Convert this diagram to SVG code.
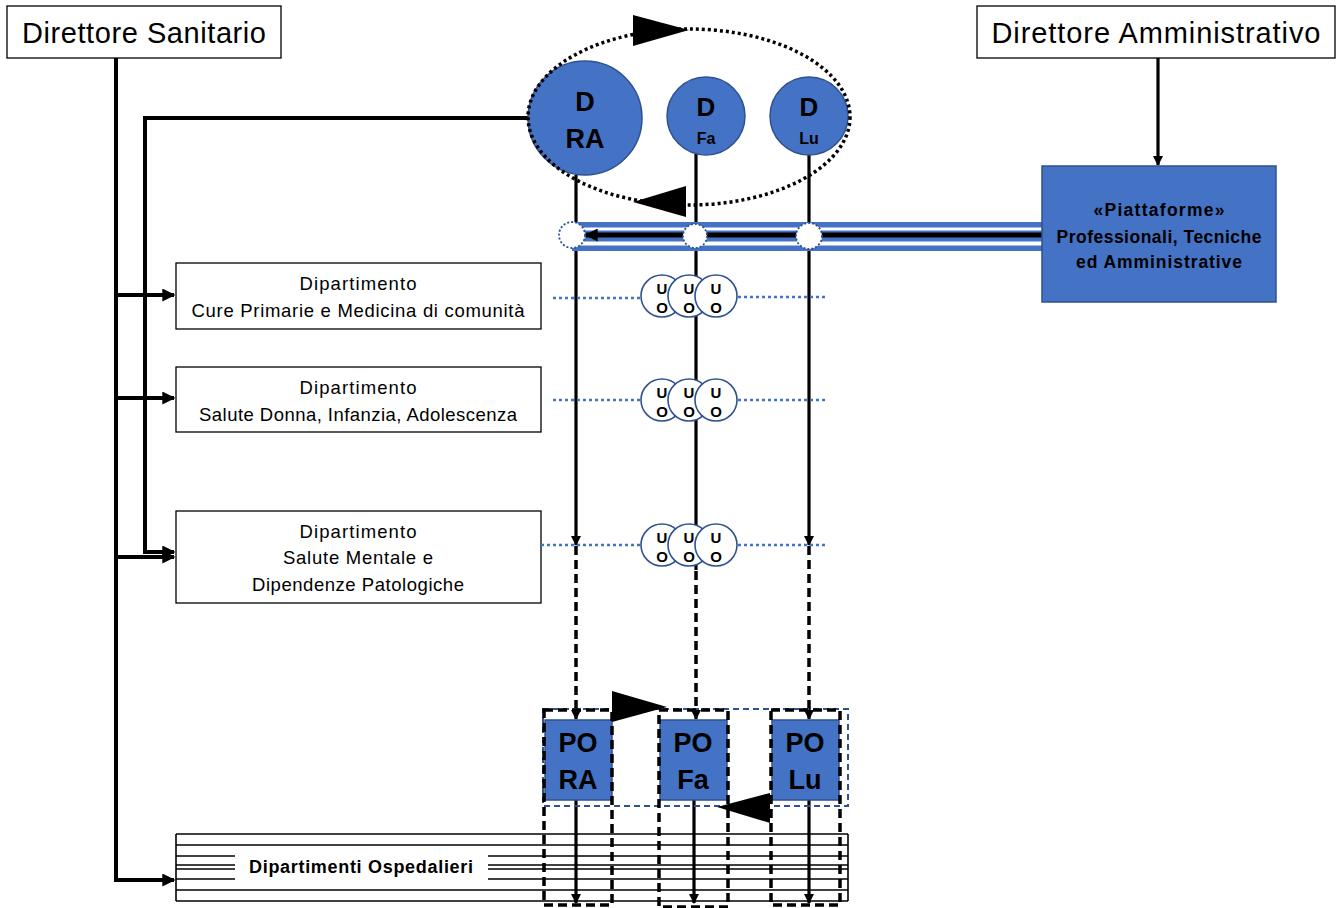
<svg xmlns="http://www.w3.org/2000/svg" width="1340" height="908" viewBox="0 0 1340 908">
  <style>
    .box { fill: #ffffff; stroke: #000000; stroke-width: 1.3; }
    .blue { fill: #4472C4; stroke: #2F528F; stroke-width: 1.5; }
    .t { font-family: "Liberation Sans", Arial, sans-serif; fill: #000000; text-anchor: middle; }
    .b { font-weight: bold; }
    .wire { fill: none; stroke: #000000; stroke-width: 4; }
    .thin { fill: none; stroke: #000000; stroke-width: 3.2; }
    .dash { fill: none; stroke: #000000; stroke-width: 3.5; stroke-dasharray: 9 5; }
    .dot { fill: none; stroke: #4472C4; stroke-width: 2.5; stroke-dasharray: 3 3; }
    .uo { fill: #ffffff; stroke: #2F528F; stroke-width: 1.6; }
    .ring { fill: #ffffff; stroke: #2F528F; stroke-width: 1.8; stroke-dasharray: 2 2; }
    .stripe { fill: none; stroke: #000000; stroke-width: 1.6; }
  </style>
  <defs>
    <marker id="arr" viewBox="0 0 10 10" refX="9" refY="5" markerWidth="10" markerHeight="10" markerUnits="userSpaceOnUse" orient="auto">
      <path d="M0,0 L10,5 L0,10 Z" fill="#000000"/>
    </marker>
    <marker id="arrL" viewBox="0 0 10 10" refX="9" refY="5" markerWidth="13" markerHeight="13" markerUnits="userSpaceOnUse" orient="auto">
      <path d="M0,0 L10,5 L0,10 Z" fill="#000000"/>
    </marker>
  </defs>

  <rect width="1340" height="908" fill="#ffffff"/>

  <!-- hospital departments block (drawn first, lines run behind the PO columns) -->
  <g id="dip-ospedalieri">
    <rect x="176" y="833" width="672" height="68" fill="#ffffff" stroke="none"/>
    <line class="stripe" x1="176" y1="834" x2="848" y2="834"/>
    <line class="stripe" x1="176" y1="845" x2="848" y2="845"/>
    <line class="stripe" x1="176" y1="856" x2="848" y2="856"/>
    <line class="stripe" x1="176" y1="865" x2="848" y2="865"/>
    <line class="stripe" x1="176" y1="869" x2="848" y2="869"/>
    <line class="stripe" x1="176" y1="879" x2="848" y2="879"/>
    <line class="stripe" x1="176" y1="890" x2="848" y2="890"/>
    <line class="stripe" x1="176" y1="901" x2="848" y2="901"/>
    <line class="stripe" x1="176" y1="834" x2="176" y2="901"/>
    <line class="stripe" x1="848" y1="834" x2="848" y2="901"/>
    <rect x="235" y="847" width="253" height="39" fill="#ffffff"/>
    <text class="t b" x="361" y="873" font-size="18" textLength="224">Dipartimenti Ospedalieri</text>
  </g>

  <!-- top-level directors -->
  <g id="dir-sanitario">
    <rect class="box" x="7" y="6" width="274" height="52"/>
    <text class="t" x="144" y="43" font-size="29" textLength="244">Direttore Sanitario</text>
  </g>
  <g id="dir-amministrativo">
    <rect class="box" x="977" y="6" width="358" height="52"/>
    <text class="t" x="1156" y="43" font-size="29" textLength="329">Direttore Amministrativo</text>
  </g>

  <!-- territorial departments -->
  <g id="dip-cure-primarie">
    <rect class="box" x="176" y="263" width="365" height="66"/>
    <text class="t" x="358" y="290" font-size="18.5" textLength="117">Dipartimento</text>
    <text class="t" x="358" y="317" font-size="18.5" textLength="333">Cure Primarie e Medicina di comunità</text>
  </g>
  <g id="dip-donna-infanzia">
    <rect class="box" x="176" y="367" width="365" height="65"/>
    <text class="t" x="358" y="394" font-size="18.5" textLength="117">Dipartimento</text>
    <text class="t" x="358" y="421" font-size="18.5" textLength="318">Salute Donna, Infanzia, Adolescenza</text>
  </g>
  <g id="dip-salute-mentale">
    <rect class="box" x="176" y="511" width="365" height="92"/>
    <text class="t" x="358" y="538" font-size="18.5" textLength="117">Dipartimento</text>
    <text class="t" x="358" y="564" font-size="18.5" textLength="150">Salute Mentale e</text>
    <text class="t" x="358" y="591" font-size="18.5" textLength="212">Dipendenze Patologiche</text>
  </g>

  <!-- connectors -->
  <g id="connectors">
    <!-- Direttore Sanitario trunk and branches -->
    <path class="wire" d="M116,58 V880 H174" marker-end="url(#arrL)"/>
    <path class="wire" d="M116,295 H174" marker-end="url(#arrL)"/>
    <path class="wire" d="M116,398 H174" marker-end="url(#arrL)"/>
    <path class="wire" d="M116,557 H174" marker-end="url(#arrL)"/>
    <path class="wire" d="M530,118 H145 V552 H174" marker-end="url(#arrL)"/>

    <!-- Direttore Amministrativo to platforms -->
    <path class="thin" d="M1158,58 V165" marker-end="url(#arr)"/>

    <!-- district lines down to the hospitals -->
    <path class="thin" d="M576,175 V545" marker-end="url(#arr)"/>
    <path class="thin" d="M696,154 V570"/>
    <path class="thin" d="M809,154 V545" marker-end="url(#arr)"/>
    <path class="dash" d="M576,546 V712"/>
    <path class="dash" d="M696,571 V712"/>
    <path class="dash" d="M809,546 V712"/>
    <path class="thin" d="M576,708 V719" marker-end="url(#arr)"/>
    <path class="thin" d="M696,708 V719" marker-end="url(#arr)"/>
    <path class="thin" d="M809,708 V719" marker-end="url(#arr)"/>

    <!-- hospitals down to hospital departments -->
    <path class="thin" d="M576,800 V903" marker-end="url(#arr)"/>
    <path class="thin" d="M694,800 V903" marker-end="url(#arr)"/>
    <path class="thin" d="M809,800 V903" marker-end="url(#arr)"/>

    <!-- dotted links across the territorial departments -->
    <line class="dot" x1="553" y1="298" x2="641" y2="298"/>
    <line class="dot" x1="738" y1="297" x2="828" y2="297"/>
    <line class="dot" x1="553" y1="400" x2="641" y2="400"/>
    <line class="dot" x1="738" y1="400" x2="828" y2="400"/>
    <line class="dot" x1="541" y1="545" x2="641" y2="545"/>
    <line class="dot" x1="738" y1="545" x2="828" y2="545"/>
  </g>

  <!-- platform band -->
  <g id="band">
    <rect x="572" y="222" width="470" height="29" fill="#4472C4"/>
    <rect x="572" y="227.5" width="470" height="3" fill="#ffffff"/>
    <rect x="572" y="241.5" width="470" height="4" fill="#ffffff"/>
    <path d="M1042,235 H586" stroke="#000000" stroke-width="5" fill="none" marker-end="url(#arrL)"/>
    <circle class="ring" cx="572" cy="235" r="13"/>
    <circle class="ring" cx="695" cy="236" r="12"/>
    <circle class="ring" cx="809" cy="236" r="13"/>
  </g>

  <g id="piattaforme">
    <rect class="blue" x="1042" y="166" width="234" height="136"/>
    <text class="t b" x="1159" y="216" font-size="17.5" textLength="131">«Piattaforme»</text>
    <text class="t b" x="1159" y="243" font-size="17.5" textLength="205">Professionali, Tecniche</text>
    <text class="t b" x="1159" y="268" font-size="17.5" textLength="166">ed Amministrative</text>
  </g>

  <!-- district directors -->
  <g id="d-ra">
    <circle class="blue" cx="585" cy="118" r="57"/>
    <text class="t b" x="585" y="111" font-size="27">D</text>
    <text class="t b" x="585" y="148" font-size="27">RA</text>
  </g>
  <g id="d-fa">
    <circle class="blue" cx="706" cy="116" r="39"/>
    <text class="t b" x="706" y="116" font-size="26">D</text>
    <text class="t b" x="706" y="144" font-size="16">Fa</text>
  </g>
  <g id="d-lu">
    <circle class="blue" cx="809" cy="116" r="39"/>
    <text class="t b" x="809" y="116" font-size="26">D</text>
    <text class="t b" x="809" y="144" font-size="16">Lu</text>
  </g>

  <!-- coordination loop among district directors -->
  <g id="loop">
    <ellipse cx="689" cy="117" rx="161" ry="88" fill="none" stroke="#000000" stroke-width="3.5" stroke-dasharray="3 3"/>
    <path d="M633,15 L689,30 L633,46 Z" fill="#000000"/>
    <path d="M686,186 L633,202 L686,217 Z" fill="#000000"/>
  </g>

  <!-- operating units -->
  <g id="uo-1">
    <circle class="uo" cx="662" cy="296" r="21"/>
    <circle class="uo" cx="689" cy="296" r="21"/>
    <circle class="uo" cx="716" cy="296" r="21"/>
    <text class="t b" font-size="15"><tspan x="662" y="294">U</tspan><tspan x="689" y="294">U</tspan><tspan x="716" y="294">U</tspan></text>
    <text class="t b" font-size="15"><tspan x="662" y="313">O</tspan><tspan x="689" y="313">O</tspan><tspan x="716" y="313">O</tspan></text>
  </g>
  <g id="uo-2">
    <circle class="uo" cx="662" cy="400" r="21"/>
    <circle class="uo" cx="689" cy="400" r="21"/>
    <circle class="uo" cx="716" cy="400" r="21"/>
    <text class="t b" font-size="15"><tspan x="662" y="398">U</tspan><tspan x="689" y="398">U</tspan><tspan x="716" y="398">U</tspan></text>
    <text class="t b" font-size="15"><tspan x="662" y="417">O</tspan><tspan x="689" y="417">O</tspan><tspan x="716" y="417">O</tspan></text>
  </g>
  <g id="uo-3">
    <circle class="uo" cx="662" cy="545" r="21"/>
    <circle class="uo" cx="689" cy="545" r="21"/>
    <circle class="uo" cx="716" cy="545" r="21"/>
    <text class="t b" font-size="15"><tspan x="662" y="543">U</tspan><tspan x="689" y="543">U</tspan><tspan x="716" y="543">U</tspan></text>
    <text class="t b" font-size="15"><tspan x="662" y="562">O</tspan><tspan x="689" y="562">O</tspan><tspan x="716" y="562">O</tspan></text>
  </g>

  <!-- hospitals -->
  <g id="po-network">
    <rect x="543" y="709" width="305" height="97" fill="none" stroke="#2F528F" stroke-width="2" stroke-dasharray="6 4"/>
  </g>
  <g id="po-ra">
    <rect class="blue" x="545" y="720" width="67" height="80"/>
    <text class="t b" x="578" y="752" font-size="27">PO</text>
    <text class="t b" x="578" y="789" font-size="27">RA</text>
    <rect x="544" y="710" width="68" height="195" fill="none" stroke="#000000" stroke-width="3.5" stroke-dasharray="9 5"/>
  </g>
  <g id="po-fa">
    <rect class="blue" x="660" y="720" width="67" height="80"/>
    <text class="t b" x="693" y="752" font-size="27">PO</text>
    <text class="t b" x="693" y="789" font-size="27">Fa</text>
    <rect x="659" y="710" width="69" height="197" fill="none" stroke="#000000" stroke-width="3.5" stroke-dasharray="9 5"/>
  </g>
  <g id="po-lu">
    <rect class="blue" x="772" y="720" width="67" height="80"/>
    <text class="t b" x="805" y="752" font-size="27">PO</text>
    <text class="t b" x="805" y="789" font-size="27">Lu</text>
    <rect x="771" y="710" width="69" height="195" fill="none" stroke="#000000" stroke-width="3.5" stroke-dasharray="9 5"/>
  </g>

  <!-- hospital network circulation -->
  <g id="po-loop">
    <path d="M612,691 L667,707 L612,722 Z" fill="#000000"/>
    <path d="M770,793 L717,807 L770,823 Z" fill="#000000"/>
  </g>
</svg>
